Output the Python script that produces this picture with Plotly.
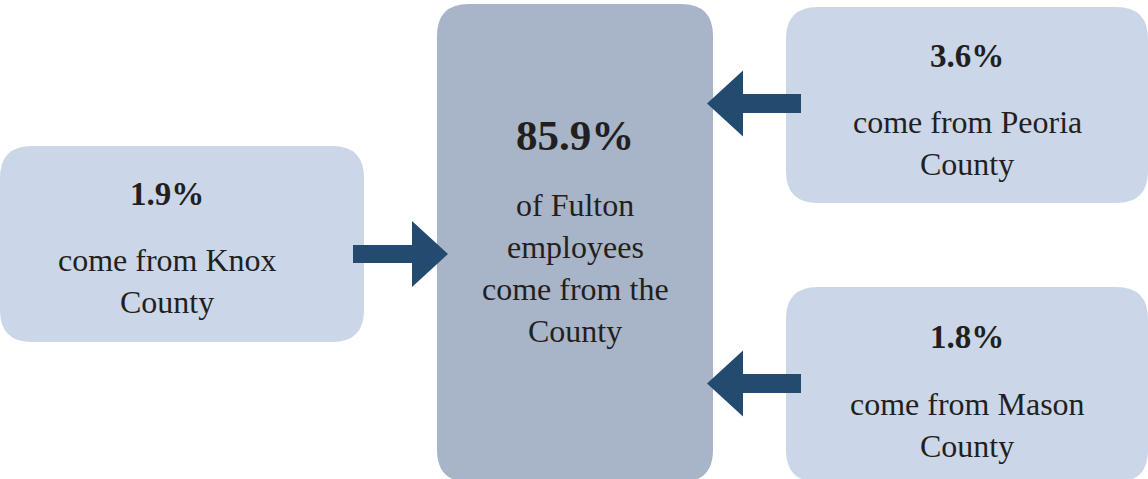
import plotly.graph_objects as go

# Commuting shares of Fulton employees by home county
counties = ["the County", "Knox County", "Peoria County", "Mason County"]
shares = [85.9, 1.9, 3.6, 1.8]
captions = [
    ["of Fulton", "employees", "come from the", "County"],
    ["come from Knox", "County"],
    ["come from Peoria", "County"],
    ["come from Mason", "County"],
]

W, H = 1148, 479
LIGHT = "#cbd6e8"
CENTER = "#a8b4c7"
ARROW = "#234a6f"
INK = "#231f20"
FONT = "Liberation Serif"
BODY = 32


def rounded_rect(x0, y0, x1, y1, r):
    return (
        f"M {x0 + r},{y0} L {x1 - r},{y0} Q {x1},{y0} {x1},{y0 + r} "
        f"L {x1},{y1 - r} Q {x1},{y1} {x1 - r},{y1} "
        f"L {x0 + r},{y1} Q {x0},{y1} {x0},{y1 - r} "
        f"L {x0},{y0 + r} Q {x0},{y0} {x0 + r},{y0} Z"
    )


def arrow(tail_x, tip_x, cy, shaft_half, head_half, head_len):
    d = 1 if tip_x > tail_x else -1
    base = tip_x - d * head_len
    pts = [
        (tail_x, cy - shaft_half), (base, cy - shaft_half), (base, cy - head_half),
        (tip_x, cy), (base, cy + head_half), (base, cy + shaft_half),
        (tail_x, cy + shaft_half),
    ]
    return "M " + " L ".join(f"{x},{y}" for x, y in pts) + " Z"


# box geometry: (x0, y0, x1, y1, text centre x, value baseline, first caption baseline, value size, fill)
boxes = [
    (437, 4, 713, 482, 575, 150, 216, 43, CENTER),
    (0, 146, 364, 342, 167, 205, 271, 33, LIGHT),
    (786, 7, 1148, 203, 967, 67, 133, 33, LIGHT),
    (786, 287, 1148, 482, 967, 348, 415, 33, LIGHT),
]

shapes = []
annotations = []
for (x0, y0, x1, y1, cx, vb, cb, vsize, fill), share, lines in zip(boxes, shares, captions):
    shapes.append(dict(type="path", path=rounded_rect(x0, y0, x1, y1, 32),
                       fillcolor=fill, line=dict(width=0), xref="x", yref="y", layer="below"))
    annotations.append(dict(x=cx, y=vb - 0.3375 * vsize, text=f"<b>{share}%</b>",
                            showarrow=False, xanchor="center", yanchor="middle",
                            font=dict(family=FONT, size=vsize, color=INK)))
    for i, line in enumerate(lines):
        annotations.append(dict(x=cx, y=cb + 42 * i - 0.3375 * BODY, text=line,
                                showarrow=False, xanchor="center", yanchor="middle",
                                font=dict(family=FONT, size=BODY, color=INK)))

# arrows pointing into the central box
shapes.append(dict(type="path", path=arrow(353, 448, 254, 9, 33, 36),
                   fillcolor=ARROW, line=dict(width=0), xref="x", yref="y"))
shapes.append(dict(type="path", path=arrow(801, 707, 103.5, 9.5, 33, 36),
                   fillcolor=ARROW, line=dict(width=0), xref="x", yref="y"))
shapes.append(dict(type="path", path=arrow(801, 707, 383.5, 9.5, 33, 36),
                   fillcolor=ARROW, line=dict(width=0), xref="x", yref="y"))

fig = go.Figure()
fig.update_layout(
    width=W, height=H,
    margin=dict(l=0, r=0, t=0, b=0),
    paper_bgcolor="white", plot_bgcolor="white",
    xaxis=dict(range=[0, W], visible=False, fixedrange=True),
    yaxis=dict(range=[H, 0], visible=False, fixedrange=True),
    shapes=shapes, annotations=annotations, showlegend=False,
)
fig.write_html("out.html", config={"displayModeBar": False})
